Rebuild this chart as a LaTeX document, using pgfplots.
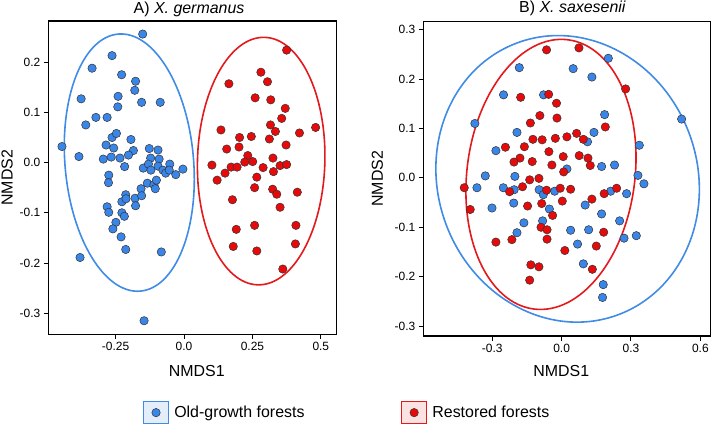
\documentclass[border=0pt]{standalone}
\usepackage{fontspec}
\setmainfont{Liberation Sans}
\usepackage{pgfplots}
\pgfplotsset{compat=1.18}

\definecolor{ogfill}{HTML}{3A86E8}
\definecolor{ogline}{HTML}{3F8BE6}
\definecolor{ogbox}{HTML}{E4EEFB}
\definecolor{rsfill}{HTML}{E60A0A}
\definecolor{rsline}{HTML}{E3191C}
\definecolor{rsbox}{HTML}{FBE2E2}

\pgfplotsset{
  nmds/.style={
    scale only axis,
    anchor=north west,
    axis line style={line width=1.2bp},
    tick style={line width=1bp, black},
    tick align=outside,
    tick pos=left,
    major tick length=4.5bp,
    tick label style={font=\fontsize{12}{14}\selectfont},
    label style={font=\fontsize{16}{19}\selectfont},
    xlabel={NMDS1},
    ylabel={NMDS2},
    ylabel style={anchor=center, rotate=0},
    xlabel style={anchor=center},
  },
  og/.style={only marks, mark=*, mark size=4.2bp,
    mark options={draw=black!80, fill=ogfill, line width=0.5bp}},
  rs/.style={only marks, mark=*, mark size=4.2bp,
    mark options={draw=black!80, fill=rsfill, line width=0.5bp}},
}

\begin{document}
\begin{tikzpicture}
% ---- A) X. germanus
\begin{axis}[nmds,
  at={(48.3bp,-21bp)},
  width=288.4bp, height=313.3bp,
  xmin=-0.496, xmax=0.558, ymin=-0.342, ymax=0.282,
  xtick={-0.25,0,0.25,0.5}, xticklabels={-0.25,0.0,0.25,0.5},
  ytick={-0.3,-0.2,-0.1,0,0.1,0.2}, yticklabels={-0.3,-0.2,-0.1,0.0,0.1,0.2},
  title={A) \textit{X. germanus}},
  every axis title/.style={at={(axis description cs:0.488,1.038)}, anchor=center,
    font=\fontsize{16}{19}\selectfont},
  xlabel style={at={(axis description cs:0.515,-0.116)}},
  ylabel style={at={(axis description cs:-0.143,0.5)}},
  legend columns=2,
  legend style={at={(axis description cs:0.327,-0.25)}, anchor=west,
    draw=none, fill=none, inner sep=0pt,
    font=\fontsize{16}{19}\selectfont,
    nodes={inner sep=0pt},
    /tikz/every odd column/.append style={column sep=5bp}},
]
\addlegendimage{legend image code/.code={
  \draw[draw=ogline, fill=ogbox, line width=1.5bp] (0bp,-11bp) rectangle (25bp,11bp);
  \draw[draw=black!80, fill=ogfill, line width=0.5bp] (12.5bp,0bp) circle (4.2bp);}}
\addlegendentry{\makebox[226.6bp][l]{Old-growth forests}}
\addlegendimage{legend image code/.code={
  \draw[draw=rsline, fill=rsbox, line width=1.5bp] (0bp,-11bp) rectangle (25bp,11bp);
  \draw[draw=black!80, fill=rsfill, line width=0.5bp] (12.5bp,0bp) circle (4.2bp);}}
\addlegendentry{Restored forests}

\draw[ogline, line width=1.6bp, rotate around={4.9:(axis cs:-0.200,0.000)}]
  (axis cs:-0.200,0.000) ellipse [x radius=64.3bp, y radius=129bp];
\draw[rsline, line width=1.6bp, rotate around={-1.6:(axis cs:0.282,0.003)}]
  (axis cs:0.282,0.003) ellipse [x radius=63.7bp, y radius=123.8bp];

\addplot[og, forget plot] coordinates {
(-0.151,0.256) (-0.263,0.213) (-0.336,0.188) (-0.228,0.175) (-0.177,0.162)
(-0.376,0.127) (-0.241,0.132) (-0.180,0.144) (-0.242,0.111) (-0.155,0.120)
(-0.087,0.120) (-0.359,0.075) (-0.322,0.090) (-0.281,0.090) (-0.446,0.032)
(-0.384,0.012) (-0.263,0.050) (-0.247,0.058) (-0.194,0.046) (-0.285,0.035)
(-0.257,0.029) (-0.185,0.024) (-0.203,0.015) (-0.295,0.007) (-0.266,0.011)
(-0.234,0.009) (-0.217,-0.008) (-0.127,0.028) (-0.095,0.025) (-0.122,0.009)
(-0.091,0.007) (-0.149,-0.011) (-0.130,-0.003) (-0.121,-0.015) (-0.095,-0.007)
(-0.077,-0.015) (-0.067,-0.021) (-0.052,-0.003) (-0.054,-0.015) (-0.030,-0.024)
(-0.004,-0.013) (-0.275,-0.025) (-0.276,-0.040) (-0.134,-0.041) (-0.110,-0.044)
(-0.105,-0.052) (-0.101,-0.035) (-0.157,-0.052) (-0.213,-0.064) (-0.227,-0.078)
(-0.212,-0.072) (-0.179,-0.071) (-0.155,-0.066) (-0.281,-0.088) (-0.177,-0.086)
(-0.275,-0.099) (-0.227,-0.100) (-0.218,-0.107) (-0.249,-0.119) (-0.260,-0.132)
(-0.230,-0.148) (-0.213,-0.173) (-0.380,-0.189) (-0.083,-0.178) (-0.146,-0.315)
};
\addplot[rs, forget plot] coordinates {
(0.375,0.224) (0.281,0.180) (0.164,0.157) (0.305,0.161) (0.260,0.129)
(0.317,0.125) (0.370,0.108) (0.357,0.088) (0.316,0.075) (0.481,0.070)
(0.334,0.062) (0.135,0.065) (0.422,0.059) (0.203,0.050) (0.246,0.052)
(0.312,0.047) (0.156,0.027) (0.201,0.031) (0.373,0.035) (0.233,0.014)
(0.222,0.001) (0.251,0.002) (0.325,0.009) (0.102,-0.005) (0.172,-0.009)
(0.194,-0.009) (0.289,-0.010) (0.351,-0.006) (0.375,-0.004) (0.150,-0.021)
(0.327,-0.018) (0.121,-0.035) (0.266,-0.029) (0.258,-0.050) (0.324,-0.053)
(0.339,-0.063) (0.414,-0.059) (0.177,-0.074) (0.351,-0.089) (0.191,-0.133)
(0.258,-0.125) (0.409,-0.125) (0.180,-0.167) (0.407,-0.162) (0.266,-0.176)
(0.361,-0.212)
};
\end{axis}

% ---- B) X. saxesenii
\begin{axis}[nmds,
  at={(423.3bp,-21.7bp)},
  width=287bp, height=314.3bp,
  xmin=-0.598, xmax=0.643, ymin=-0.32, ymax=0.316,
  xtick={-0.3,0,0.3,0.6}, xticklabels={-0.3,0.0,0.3,0.6},
  ytick={-0.3,-0.2,-0.1,0,0.1,0.2,0.3}, yticklabels={-0.3,-0.2,-0.1,0.0,0.1,0.2,0.3},
  title={B) \textit{X. saxesenii}},
  every axis title/.style={at={(axis description cs:0.52,1.043)}, anchor=center,
    font=\fontsize{16}{19}\selectfont},
  xlabel style={at={(axis description cs:0.481,-0.111)}},
  ylabel style={at={(axis description cs:-0.160,0.5)}},
]
\draw[ogline, line width=1.6bp, rotate around={20.3:(axis cs:0.026,-0.002)}]
  (axis cs:0.026,-0.002) ellipse [x radius=129.8bp, y radius=145bp];
\draw[rsline, line width=1.6bp, rotate around={-7.2:(axis cs:-0.046,0.007)}]
  (axis cs:-0.046,0.007) ellipse [x radius=84bp, y radius=135.7bp];

\addplot[og] coordinates {
(0.519,0.119) (0.202,0.242) (0.050,0.221) (0.131,0.204) (-0.183,0.223)
(-0.251,0.168) (-0.078,0.168) (-0.375,0.110) (0.186,0.128) (0.140,0.092)
(-0.193,0.092) (0.112,0.073) (0.336,0.066) (-0.284,0.055) (0.229,0.026)
(0.173,0.023) (0.023,0.018) (-0.202,0.003) (-0.330,0.004) (0.330,0.005)
(0.356,-0.012) (-0.366,-0.020) (-0.252,-0.020) (-0.205,-0.024) (-0.097,-0.024)
(-0.079,-0.034) (-0.030,-0.027) (0.212,-0.027) (0.281,-0.032) (-0.207,-0.051)
(-0.301,-0.061) (-0.053,-0.063) (0.102,-0.055) (0.173,-0.073) (0.251,-0.087)
(-0.082,-0.087) (-0.163,-0.091) (-0.193,-0.111) (0.039,-0.106) (0.117,-0.105)
(0.270,-0.122) (0.323,-0.117) (0.069,-0.134) (0.094,-0.174) (0.180,-0.216)
(0.177,-0.242)
};
\addplot[rs] coordinates {
(-0.065,0.259) (0.075,0.263) (0.277,0.180) (-0.177,0.163) (-0.056,0.169)
(-0.022,0.151) (-0.094,0.126) (-0.020,0.121) (-0.135,0.111) (0.189,0.103)
(0.065,0.090) (-0.124,0.078) (-0.084,0.077) (-0.027,0.080) (0.023,0.083)
(0.094,0.078) (-0.243,0.062) (-0.161,0.063) (-0.055,0.053) (-0.180,0.040)
(0.007,0.043) (0.076,0.045) (0.114,0.040) (-0.206,0.032) (-0.127,0.033)
(-0.042,0.026) (0.124,0.025) (0.009,0.012) (-0.138,-0.004) (-0.098,-0.001)
(-0.421,-0.020) (-0.169,-0.018) (-0.225,-0.028) (-0.065,-0.025) (-0.006,-0.021)
(0.039,-0.023) (0.184,-0.032) (0.238,-0.021) (0.131,-0.043) (0.003,-0.047)
(-0.086,-0.052) (-0.147,-0.057) (-0.395,-0.064) (-0.039,-0.076) (-0.089,-0.100)
(-0.063,-0.105) (-0.284,-0.130) (-0.215,-0.125) (-0.063,-0.124) (0.182,-0.110)
(0.014,-0.147) (0.150,-0.138) (-0.133,-0.176) (-0.098,-0.180) (-0.138,-0.207)
(0.133,-0.185)
};
\end{axis}
\pgfresetboundingbox
\path[use as bounding box] (0bp,0bp) rectangle (714bp,-425bp);
\end{tikzpicture}
\end{document}
